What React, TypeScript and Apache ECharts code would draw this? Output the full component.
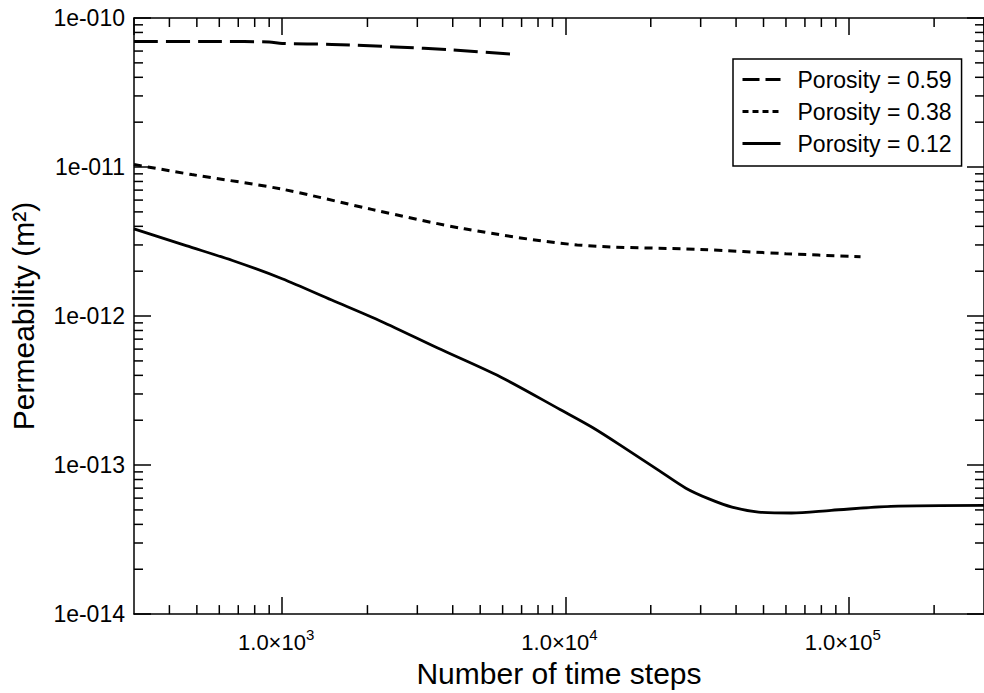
import React, { useEffect, useRef } from "react";
import * as echarts from "echarts";

const FONT = '"Liberation Sans", Arial, Helvetica, sans-serif';

const seriesNames = ["Porosity = 0.59", "Porosity = 0.38", "Porosity = 0.12"];

const steps059 = [300, 600, 900, 1000, 1500, 2500, 4000, 6600];
const perm059 = [6.95e-11, 6.95e-11, 6.9e-11, 6.75e-11, 6.65e-11, 6.4e-11, 6.1e-11, 5.7e-11];

const steps038 = [300, 480, 1000, 2070, 4400, 11000, 30000, 60000, 110000];
const perm038 = [1.04e-11, 8.9e-12, 7.1e-12, 5.2e-12, 3.85e-12, 3.0e-12, 2.8e-12, 2.62e-12, 2.5e-12];

const steps012 = [300, 458, 668, 1000, 1496, 2240, 3540, 5900, 9570, 12500, 16400, 21400, 26600, 32100, 38700, 48000, 62800, 86700, 140600, 300000];
const perm012 = [3.85e-12, 2.97e-12, 2.36e-12, 1.78e-12, 1.28e-12, 9.2e-13, 6.1e-13, 3.9e-13, 2.36e-13, 1.78e-13, 1.28e-13, 9.18e-14, 7.0e-14, 5.93e-14, 5.22e-14, 4.84e-14, 4.77e-14, 4.97e-14, 5.28e-14, 5.36e-14];

const X_MIN = 300;
const X_MAX = 300000;
const Y_MIN = 1e-14;
const Y_MAX = 1e-10;

const xDecades = [100, 1000, 10000, 100000];
const yDecades = [1e-14, 1e-13, 1e-12, 1e-11];
const multipliers = [2, 3, 4, 5, 6, 7, 8, 9];

const xMinorTicks = xDecades
  .flatMap((d) => multipliers.map((m) => d * m))
  .filter((v) => v > X_MIN && v < X_MAX);
const yMinorTicks = yDecades.flatMap((d) => multipliers.map((m) => d * m));

const pair = (xs: number[], ys: number[]) => xs.map((x, i) => [x, ys[i]]);

export default function App() {
  const ref = useRef<HTMLDivElement>(null);
  useEffect(() => {
    if (!ref.current) return;
    const chart = echarts.init(ref.current, null, { renderer: "svg" });
    const black = "#000";
    const tickStyle = { stroke: black, lineWidth: 1.5 };
    const axisCommon = {
      axisLine: { show: true, lineStyle: { color: black, width: 1.5 } },
      axisTick: { show: true, inside: true, length: 17, lineStyle: { color: black, width: 1.5 } },
      splitLine: { show: false },
      minorTick: { show: false },
    };
    const option: any = {
      animation: false,
      backgroundColor: "#fff",
      textStyle: { fontFamily: FONT, color: black },
      grid: { left: 133, top: 18, width: 854, height: 600, containLabel: false },
      legend: {
        data: [
          { name: seriesNames[0], lineStyle: { type: [17, 6], width: 3 } },
          { name: seriesNames[1], lineStyle: { type: [6, 4], width: 3 } },
          { name: seriesNames[2], lineStyle: { type: "solid", width: 3 } },
        ],
        orient: "vertical",
        left: 733,
        top: 59,
        padding: [9, 10, 11, 8],
        itemWidth: 38,
        itemHeight: 22,
        itemGap: 9,
        borderColor: black,
        borderWidth: 1.5,
        backgroundColor: "#fff",
        selectedMode: false,
        itemStyle: { color: "rgba(0,0,0,0)", borderColor: "rgba(0,0,0,0)", borderWidth: 0, opacity: 0 },
        textStyle: { fontFamily: FONT, fontSize: 23, color: black, padding: [0, 0, 0, 12] },
      },
      xAxis: [
        {
          type: "log",
          logBase: 10,
          min: X_MIN,
          max: X_MAX,
          position: "bottom",
          ...axisCommon,
          name: "Number of time steps",
          nameLocation: "middle",
          nameGap: 39,
          nameTextStyle: { fontFamily: FONT, fontSize: 30, color: black },
          axisLabel: {
            show: true,
            margin: 13,
            fontFamily: FONT,
            fontSize: 22,
            color: black,
            padding: [0, 12, 0, 0],
            showMinLabel: false,
            showMaxLabel: false,
            formatter: (v: number) => `{m|1.0×10}{s|${Math.round(Math.log10(v))}}`,
            rich: {
              m: { fontFamily: FONT, fontSize: 22, color: black, lineHeight: 26, verticalAlign: "bottom" },
              s: { fontFamily: FONT, fontSize: 15, color: black, lineHeight: 15, verticalAlign: "top" },
            },
          },
        },
        {
          type: "log",
          logBase: 10,
          min: X_MIN,
          max: X_MAX,
          position: "top",
          ...axisCommon,
          axisLabel: { show: false },
        },
      ],
      yAxis: [
        {
          type: "log",
          logBase: 10,
          min: Y_MIN,
          max: Y_MAX,
          position: "left",
          ...axisCommon,
          name: "Permeability (m²)",
          nameLocation: "middle",
          nameGap: 96,
          nameTextStyle: { fontFamily: FONT, fontSize: 30, color: black },
          axisLabel: {
            show: true,
            margin: 9,
            fontFamily: FONT,
            fontSize: 23,
            color: black,
            formatter: (v: number) => "1e-" + String(Math.round(-Math.log10(v))).padStart(3, "0"),
          },
        },
        {
          type: "log",
          logBase: 10,
          min: Y_MIN,
          max: Y_MAX,
          position: "right",
          ...axisCommon,
          axisLabel: { show: false },
        },
      ],
      series: [
        {
          name: seriesNames[0],
          type: "line",
          data: pair(steps059, perm059),
          symbol: "none",
          smooth: 0.3,
          lineStyle: { color: black, width: 3, type: [24, 8] },
          itemStyle: { color: black },
        },
        {
          name: seriesNames[1],
          type: "line",
          data: pair(steps038, perm038),
          symbol: "none",
          smooth: 0.3,
          lineStyle: { color: black, width: 3, type: [8, 6] },
          itemStyle: { color: black },
        },
        {
          name: seriesNames[2],
          type: "line",
          data: pair(steps012, perm012),
          symbol: "none",
          smooth: 0.3,
          lineStyle: { color: black, width: 2.8, type: "solid" },
          itemStyle: { color: black },
        },
        {
          name: "xMinor",
          type: "custom",
          silent: true,
          data: xMinorTicks.map((v) => [v, Y_MIN]),
          renderItem: (_p: any, api: any) => {
            const v = api.value(0);
            const b = api.coord([v, Y_MIN]);
            const t = api.coord([v, Y_MAX]);
            return {
              type: "group",
              children: [
                { type: "line", shape: { x1: b[0], y1: b[1], x2: b[0], y2: b[1] - 9 }, style: tickStyle },
                { type: "line", shape: { x1: t[0], y1: t[1], x2: t[0], y2: t[1] + 9 }, style: tickStyle },
              ],
            };
          },
        },
        {
          name: "yMinor",
          type: "custom",
          silent: true,
          data: yMinorTicks.map((v) => [X_MIN, v]),
          renderItem: (_p: any, api: any) => {
            const v = api.value(1);
            const l = api.coord([X_MIN, v]);
            const r = api.coord([X_MAX, v]);
            return {
              type: "group",
              children: [
                { type: "line", shape: { x1: l[0], y1: l[1], x2: l[0] + 9, y2: l[1] }, style: tickStyle },
                { type: "line", shape: { x1: r[0], y1: r[1], x2: r[0] - 9, y2: r[1] }, style: tickStyle },
              ],
            };
          },
        },
      ],
    };
    chart.setOption(option);
    return () => chart.dispose();
  }, []);
  return <div ref={ref} style={{ position: "absolute", left: 0, top: 0, width: 984, height: 693 }} />;
}
